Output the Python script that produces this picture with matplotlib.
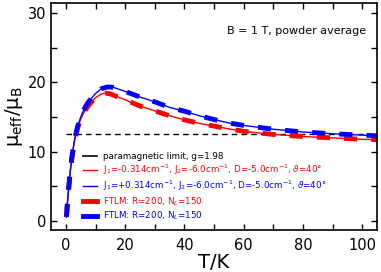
import numpy as np
import matplotlib
matplotlib.use("Agg")
import matplotlib.pyplot as plt
from matplotlib.lines import Line2D

# datos
T_red = [0.2, 0.5, 1, 1.5, 2, 2.5, 3, 4, 5, 6, 7, 8, 10, 12, 13.5, 15, 17, 20, 25, 30,
         35, 40, 45, 50, 55, 60, 70, 80, 90, 100, 105]
mu_red = [0.6, 2.5, 5.0, 7.2, 9.0, 10.5, 11.8, 13.5, 14.7, 15.6, 16.3, 16.9, 17.8, 18.35, 18.45,
          18.35, 18.0, 17.5, 16.6, 15.9, 15.2, 14.6, 14.1, 13.7, 13.3, 12.95, 12.5, 12.2,
          12.0, 11.8, 11.75]

T_blue = [0.2, 0.5, 1, 1.5, 2, 2.5, 3, 4, 5, 6, 7, 8, 10, 12, 14, 16, 18, 20, 25, 30,
          35, 40, 45, 50, 55, 60, 70, 80, 90, 100, 105]
mu_blue = [0.6, 2.5, 5.0, 7.3, 9.1, 10.6, 11.9, 13.7, 15.0, 16.0, 16.8, 17.4, 18.4, 19.1, 19.35,
           19.3, 19.0, 18.7, 17.9, 17.2, 16.4, 15.85, 15.2, 14.65, 14.15, 13.8, 13.25, 12.85,
           12.6, 12.4, 12.3]

T_para = [0, 105]
mu_para = [12.5, 12.5]

labels = [
    "paramagnetic limit, g=1.98",
    "J$_1$=-0.314cm$^{-1}$, J$_2$=-6.0cm$^{-1}$, D=-5.0cm$^{-1}$, $\\vartheta$=40°",
    "J$_1$=+0.314cm$^{-1}$, J$_2$=-6.0cm$^{-1}$, D=-5.0cm$^{-1}$, $\\vartheta$=40°",
    "FTLM: R=200, N$_L$=150",
    "FTLM: R=200, N$_L$=150",
]

plt.rcParams['font.family'] = ['DejaVu Sans']
plt.rcParams['mathtext.fontset'] = 'dejavusans'

fig = plt.figure(figsize=(3.81, 2.72), dpi=100)
ax = fig.add_axes([0.134, 0.154, 0.856, 0.836])

ax.plot(T_para, mu_para, color='black', lw=1.0, dashes=(4, 3))
ax.plot(T_red, mu_red, color='red', lw=1.0)
ax.plot(T_blue, mu_blue, color='blue', lw=1.0)
ax.plot(T_red, mu_red, color='red', lw=3.5, dashes=(2.7, 2.9), dash_capstyle='butt')
ax.plot(T_blue, mu_blue, color='blue', lw=3.5, dashes=(2.7, 2.9), dash_capstyle='butt')

ax.set_xlim(-5, 105)
ax.set_ylim(-1.3, 31.5)
ax.set_xticks([0, 20, 40, 60, 80, 100])
ax.set_xticks([10, 30, 50, 70, 90], minor=True)
ax.set_yticks([0, 10, 20, 30])
ax.set_yticks([5, 15, 25], minor=True)
ax.tick_params(which='both', direction='in', top=True, right=True, length=4, width=1.0,
               labelsize=10.5)
ax.tick_params(axis='x', pad=5.5)
for s in ax.spines.values():
    s.set_linewidth(1.2)

ax.set_xlabel("T/K", fontsize=14, labelpad=0)
ax.set_ylabel("μ$_{\\rm eff}$/μ$_{\\rm B}$", fontsize=14, labelpad=2)

ax.text(0.965, 0.875, "B = 1 T, powder average", transform=ax.transAxes,
        ha='right', va='center', fontsize=8)

handles = [
    Line2D([], [], color='black', lw=1.2),
    Line2D([], [], color='red', lw=1.0),
    Line2D([], [], color='blue', lw=1.0),
    Line2D([], [], color='red', lw=3.5),
    Line2D([], [], color='blue', lw=3.5),
]
leg = ax.legend(handles, labels, loc='upper left', bbox_to_anchor=(0.098, 0.345),
                frameon=False, fontsize=6.3, handlelength=1.55, handletextpad=0.7,
                labelspacing=0.22, borderpad=0, borderaxespad=0)
for txt, c in zip(leg.get_texts(), ['black', 'red', 'blue', 'red', 'blue']):
    txt.set_color(c)

fig.savefig("out.png", dpi=100)
